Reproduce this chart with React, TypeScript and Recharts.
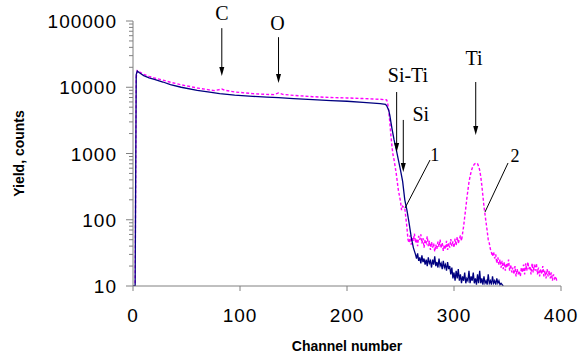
import { Line, LineChart, ReferenceDot, ReferenceLine, XAxis, YAxis } from "recharts"

// Spectrum 1 (navy, solid)
const series1Channels = [
  0, 2, 3, 4, 6, 10, 15, 20, 28, 35, 45, 60, 70, 81, 88, 95, 112, 125, 136, 150, 168, 185, 200, 215, 231, 236,
  237, 239, 240, 241, 242, 244, 246, 248, 250, 252, 254, 256, 258, 260, 262,
  264, 265, 266, 267, 268, 269, 270, 271, 272, 273, 274, 275, 276, 277, 278, 279, 280, 281, 282, 283, 284, 285,
  286, 287, 288, 289, 290, 291, 292, 293, 294, 295, 296, 297, 298, 299, 300, 301, 302, 303, 304, 305, 306, 307,
  308, 309, 310, 311, 312, 313, 314, 315, 316, 317, 318, 319, 320, 321, 322, 323, 324, 325, 326, 327, 328, 329,
  330, 331, 332, 333, 334, 335, 336, 337, 338, 339, 340, 341, 342, 343, 344, 345, 346,
]
const series1Counts = [
  10, 10, 15500, 17500, 16500, 15000, 13900, 13100, 12000, 11000, 10000, 9000, 8500, 8000, 7800, 7600, 7300, 7100,
  6950, 6750, 6500, 6300, 6150, 5900, 5650, 5500,
  5300, 4500, 3800, 3000, 2400, 1600, 1150, 800, 560, 380, 200, 140, 90, 55, 38,
  30, 26, 31, 24, 27, 22, 29, 23, 26, 21, 25, 20, 27, 22, 24, 19, 25, 21, 28, 20, 23, 19,
  26, 20, 22, 18, 24, 19, 21, 17, 23, 18, 20, 15, 19, 13, 16, 12, 17, 13, 18, 12, 15, 11,
  14, 12, 16, 11, 13, 12, 17, 11, 14, 12, 16, 11, 13, 10.5, 15, 11, 17, 11, 13, 10.5, 14, 11,
  12, 10.5, 15, 11, 12, 10.5, 14, 11, 12, 10.5, 13, 11, 12, 10.5, 11, 10.5, 10,
]

// Spectrum 2 (magenta, dashed)
const series2Channels = [
  0, 2, 3, 4, 6, 10, 15, 20, 28, 35, 45, 60, 70, 76, 80, 83, 86, 95, 112, 125, 132, 136, 140, 150, 168, 185, 200,
  215, 231, 237, 238, 239, 240, 241, 242, 243, 244, 246, 248, 250, 251, 252, 254, 256, 257,
  258, 259, 260, 261, 262, 263, 264, 265, 266, 267, 268, 269, 270, 271, 272, 273, 274, 275, 276, 277, 278, 279,
  280, 281, 282, 283, 284, 285, 286, 287, 288, 289, 290, 291, 292, 293, 294, 295, 296, 297, 298, 299, 300, 301,
  302, 303, 304, 305, 306, 307, 308, 309, 310, 311, 312, 313, 314, 315, 316, 317, 318, 319, 320, 321, 322, 323,
  324, 325, 326, 327, 328, 329, 330, 331, 332, 333, 334, 335, 336, 337, 338, 339, 340, 341, 342, 343, 344, 345,
  346, 347, 348, 349, 350, 351, 352, 353, 354, 355, 356, 357, 358, 359, 360, 361, 362, 363, 364, 365, 366, 367,
  368, 369, 370, 371, 372, 373, 374, 375, 376, 377, 378, 379, 380, 381, 382, 383, 384, 385, 386, 387, 388, 389,
  390, 391, 392, 393, 394, 395, 396,
]
const series2Counts = [
  10, 10, 14000, 17800, 17000, 15700, 14600, 13800, 12800, 11900, 10900, 9750, 9200, 8900, 9150, 9400, 9000, 8500,
  8000, 7800, 7750, 8200, 7800, 7550, 7200, 7000, 6900,
  6750, 6580, 6450, 5800, 4300, 3000, 1900, 1300, 950, 800, 500, 280, 190, 140, 160, 150, 77, 50,
  45, 58, 42, 55, 48, 62, 45, 52, 40, 57, 50, 60, 44, 53, 38, 50, 45, 56, 40, 48, 35, 46,
  38, 44, 33, 42, 36, 47, 39, 50, 37, 45, 34, 42, 36, 48, 35, 44, 38, 51, 40, 47, 38, 52,
  41, 55, 44, 50, 58, 48, 62, 80, 110, 150, 210, 280, 370, 450, 530, 600, 650, 690, 710, 720, 700, 640,
  560, 450, 330, 230, 160, 120, 90, 68, 50, 44, 36, 32, 28, 33, 26, 30, 22, 27, 21, 25, 19, 24,
  18, 23, 17, 22, 19, 25, 17, 21, 16, 19, 15, 20, 14, 18, 15, 17, 14, 19, 16, 21, 15, 22,
  17, 23, 18, 20, 15, 22, 16, 21, 17, 22, 15, 19, 14, 18, 15, 20, 14, 17, 13, 18, 14, 17,
  13, 16, 12, 15, 13, 14, 12,
]

const xTicks = [0, 100, 200, 300, 400]
const yMajorTicks = [10, 100, 1000, 10000, 100000]
const yMinorSteps = [2, 3, 4, 5, 6, 7, 8, 9]

// annotation arrows: [channel, counts] start -> end (arrow tip)
const arrows = [
  { from: [83, 78000], to: [83, 14800] }, // C
  { from: [136, 57000], to: [136, 11600] }, // O
  { from: [246.4, 8470], to: [246.4, 1055] }, // Si-Ti
  { from: [252.6, 3210], to: [252.6, 525] }, // Si
  { from: [320.3, 12000], to: [320.3, 1900] }, // Ti
]
const leaders = [
  { from: [277.6, 798], to: [254.2, 150] }, // 1
  { from: [350.5, 719], to: [329, 131] }, // 2
]
const labels = [
  { text: "C", ch: 83, counts: 103500, size: 20 },
  { text: "O", ch: 135, counts: 73100, size: 20 },
  { text: "Si-Ti", ch: 257, counts: 12000, size: 20 },
  { text: "Ti", ch: 318.7, counts: 21700, size: 20 },
  { text: "Si", ch: 269, counts: 3090, size: 20 },
  { text: "1", ch: 282, counts: 770, size: 18 },
  { text: "2", ch: 357, counts: 745, size: 18 },
]

const series1 = series1Channels.map((ch, i) => ({ ch, counts: series1Counts[i] }))
const series2 = series2Channels.map((ch, i) => ({ ch, counts: series2Counts[i] }))
const yTicks = [
  ...yMajorTicks.slice(0, -1).flatMap((d) => [d, ...yMinorSteps.map((k) => d * k)]),
  yMajorTicks[yMajorTicks.length - 1],
]

const sans = "'Liberation Sans', Arial, sans-serif"
const serif = "'Liberation Serif', 'Times New Roman', serif"
const axisGray = "#808080"

const YTick = ({ x, y, payload }: any) => {
  const major = yMajorTicks.includes(payload.value)
  return (
    <g>
      <line x1={x - (major ? 7 : 4)} x2={x} y1={y} y2={y} stroke={axisGray} />
      {major && (
        <text x={x - 16} y={y} dy={7} textAnchor="end" fontSize={19} fontFamily={sans} fill="#000" letterSpacing={1}>
          {payload.value}
        </text>
      )}
    </g>
  )
}

const Arrow = ({ x1, y1, x2, y2 }: any) => (
  <g>
    <line x1={x1} y1={y1} x2={x2} y2={y2 - 6} stroke="#000" strokeWidth={1} />
    <polygon points={`${x2 - 2.5},${y2 - 9} ${x2 + 2.5},${y2 - 9} ${x2},${y2}`} fill="#000" />
  </g>
)

const Leader = ({ x1, y1, x2, y2 }: any) => <line x1={x1} y1={y1} x2={x2} y2={y2} stroke="#000" strokeWidth={1} />

export default function App() {
  return (
    <div style={{ position: "absolute", left: 0, top: 0, background: "#fff" }}>
      <LineChart width={581} height={358} margin={{ top: 21, right: 20, bottom: 0, left: 0 }}>
        <XAxis
          type="number"
          dataKey="ch"
          domain={[0, 400]}
          ticks={xTicks}
          interval={0}
          height={72}
          stroke={axisGray}
          tickSize={5}
          tickMargin={18}
          tick={{ fontSize: 19, fill: "#000", fontFamily: sans, letterSpacing: 1 }}
          label={{
            content: ({ viewBox }: any) => (
              <text
                x={viewBox.x + viewBox.width / 2}
                y={viewBox.y + 65}
                textAnchor="middle"
                fontSize={14}
                fontWeight="bold"
                fontFamily={sans}
                fill="#000"
              >
                Channel number
              </text>
            ),
          }}
        />
        <YAxis
          dataKey="counts"
          scale="log"
          domain={[10, 100000]}
          allowDataOverflow
          ticks={yTicks}
          interval={0}
          width={133}
          stroke={axisGray}
          tickLine={false}
          tickSize={0}
          tickMargin={0}
          tick={<YTick />}
          label={{
            content: ({ viewBox }: any) => (
              <text
                x={viewBox.x + 24}
                y={viewBox.y + viewBox.height / 2}
                transform={`rotate(-90 ${viewBox.x + 24} ${viewBox.y + viewBox.height / 2})`}
                textAnchor="middle"
                fontSize={14}
                fontWeight="bold"
                fontFamily={sans}
                fill="#000"
              >
                Yield, counts
              </text>
            ),
          }}
        />
        <Line
          data={series2}
          dataKey="counts"
          type="linear"
          stroke="#ff00ff"
          strokeWidth={1.4}
          strokeDasharray="3 2"
          dot={false}
          isAnimationActive={false}
        />
        <Line
          data={series1}
          dataKey="counts"
          type="linear"
          stroke="#000080"
          strokeWidth={1.3}
          dot={false}
          isAnimationActive={false}
        />
        {arrows.map((a, i) => (
          <ReferenceLine
            key={"a" + i}
            segment={[
              { x: a.from[0], y: a.from[1] },
              { x: a.to[0], y: a.to[1] },
            ]}
            ifOverflow="visible"
            shape={<Arrow />}
          />
        ))}
        {leaders.map((a, i) => (
          <ReferenceLine
            key={"l" + i}
            segment={[
              { x: a.from[0], y: a.from[1] },
              { x: a.to[0], y: a.to[1] },
            ]}
            ifOverflow="visible"
            shape={<Leader />}
          />
        ))}
        {labels.map((l) => (
          <ReferenceDot
            key={l.text}
            x={l.ch}
            y={l.counts}
            ifOverflow="visible"
            shape={({ cx, cy }: any) => (
              <text x={cx} y={cy} textAnchor="middle" fontSize={l.size} fontFamily={serif} fill="#000">
                {l.text}
              </text>
            )}
          />
        ))}
      </LineChart>
    </div>
  )
}
